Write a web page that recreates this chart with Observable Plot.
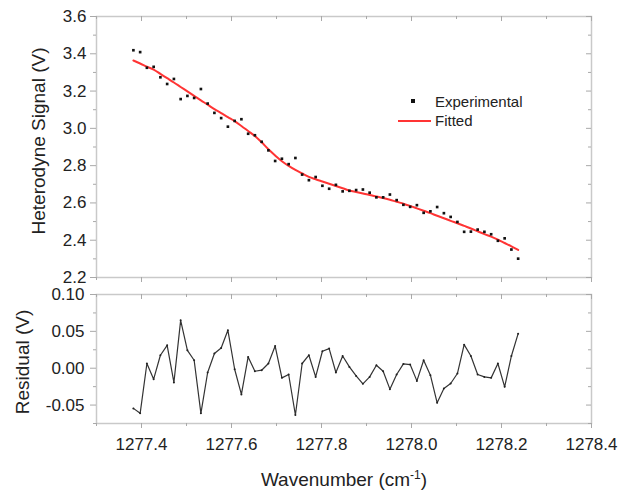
<!DOCTYPE html>
<html>
<head>
<meta charset="utf-8">
<script src="https://cdn.jsdelivr.net/npm/d3@7"></script>
<script src="https://cdn.jsdelivr.net/npm/@observablehq/plot@0.6"></script>
<style>
  body { margin: 0; background: #fff; }
  #chart { position: relative; width: 620px; height: 492px; font-family: 'Liberation Sans', Arial, Helvetica, sans-serif; }
  #chart svg { display: block; }
  .lg { position: absolute; }
  .lg-text { font-size: 15px; line-height: 15px; color: #222; white-space: nowrap; }
</style>
</head>
<body>
<div id="chart"></div>
<script>
// Heterodyne signal scan: measured points, model fit and fit residual
const wavenumber = [
  1277.382, 1277.397, 1277.412, 1277.427, 1277.442, 1277.457, 1277.472, 1277.487, 1277.502, 1277.517,
  1277.532, 1277.547, 1277.562, 1277.577, 1277.592, 1277.607, 1277.622, 1277.637, 1277.652, 1277.667,
  1277.682, 1277.697, 1277.712, 1277.727, 1277.742, 1277.757, 1277.772, 1277.787, 1277.802, 1277.817,
  1277.832, 1277.847, 1277.862, 1277.877, 1277.892, 1277.907, 1277.922, 1277.937, 1277.952, 1277.967,
  1277.982, 1277.997, 1278.012, 1278.027, 1278.042, 1278.057, 1278.072, 1278.087, 1278.102, 1278.117,
  1278.132, 1278.147, 1278.162, 1278.177, 1278.192, 1278.207, 1278.222, 1278.237
];
const experimental = [
  3.419, 3.409, 3.325, 3.330, 3.274, 3.238, 3.265, 3.157, 3.174, 3.163,
  3.211, 3.133, 3.083, 3.055, 3.009, 3.040, 3.049, 2.971, 2.963, 2.928,
  2.882, 2.825, 2.837, 2.808, 2.841, 2.752, 2.722, 2.739, 2.692, 2.676,
  2.697, 2.662, 2.665, 2.669, 2.672, 2.655, 2.630, 2.630, 2.645, 2.615,
  2.590, 2.579, 2.588, 2.547, 2.555, 2.578, 2.545, 2.525, 2.498, 2.445,
  2.446, 2.457, 2.445, 2.432, 2.397, 2.410, 2.350, 2.301
];
const fitted = [
  3.364, 3.348, 3.331, 3.315, 3.292, 3.269, 3.246, 3.222, 3.198, 3.174,
  3.150, 3.127, 3.103, 3.082, 3.060, 3.039, 3.013, 2.986, 2.959, 2.925,
  2.888, 2.855, 2.824, 2.799, 2.777, 2.758, 2.740, 2.727, 2.715, 2.703,
  2.691, 2.679, 2.667, 2.659, 2.651, 2.643, 2.634, 2.626, 2.617, 2.606,
  2.596, 2.584, 2.571, 2.558, 2.545, 2.531, 2.518, 2.504, 2.491, 2.477,
  2.463, 2.448, 2.433, 2.419, 2.403, 2.385, 2.367, 2.348
];
const residual = [
  -0.0545, -0.0612, 0.0064, -0.0149, 0.0176, 0.0311, -0.0193, 0.0649, 0.0243, 0.0108,
  -0.0612, -0.0058, 0.0199, 0.0274, 0.0514, -0.0014, -0.0355, 0.0153, -0.0041, -0.0027,
  0.0064, 0.0301, -0.0131, -0.0085, -0.0635, 0.0064, 0.0176, -0.0118, 0.0230, 0.0266,
  -0.0058, 0.0166, 0.0018, -0.0104, -0.0212, -0.0118, 0.0041, -0.0041, -0.0284, -0.0085,
  0.0058, 0.0050, -0.0172, 0.0108, -0.0095, -0.0469, -0.0274, -0.0207, -0.0072, 0.0320,
  0.0166, -0.0085, -0.0118, -0.0131, 0.0064, -0.0253, 0.0166, 0.0469
];

// Tick values
const signalTicks = [2.2, 2.4, 2.6, 2.8, 3.0, 3.2, 3.4, 3.6];
const signalMinor = [2.3, 2.5, 2.7, 2.9, 3.1, 3.3, 3.5];
const residualTicks = [-0.05, 0.00, 0.05, 0.10];
const residualMinor = [-0.075, -0.025, 0.025, 0.075];
const wnTicks = [1277.4, 1277.6, 1277.8, 1278.0, 1278.2, 1278.4];
const wnMinor = [1277.3, 1277.5, 1277.7, 1277.9, 1278.1, 1278.3];

const rows = wavenumber.map((w, i) => ({w, exp: experimental[i], fit: fitted[i], res: residual[i]}));

const W = 620, ML = 96, MR = 29;
const frameGray = "#c9c9c9", tickGray = "#a9a9a9", ink = "#222";
const font = "'Liberation Sans', Arial, Helvetica, sans-serif";
const style = {fontFamily: font, fontSize: "17px", color: ink, background: "white", overflow: "visible"};
const xDomain = [1277.3, 1278.4];

// inward mirror ticks along the top and right edges of a panel
function mirrorTicks(plotW, plotH, yMajor, yMinor) {
  return [
    Plot.ruleX(wnTicks, {x: d => d, insetBottom: plotH - 5, stroke: tickGray}),
    Plot.ruleX(wnMinor, {x: d => d, insetBottom: plotH - 3, stroke: tickGray}),
    Plot.ruleY(yMajor, {y: d => d, insetLeft: plotW - 5, stroke: tickGray}),
    Plot.ruleY(yMinor, {y: d => d, insetLeft: plotW - 3, stroke: tickGray})
  ];
}

// Upper panel: signal and fit
const topH = 285, topMT = 16, topMB = 8;
const topPlot = Plot.plot({
  width: W, height: topH,
  marginLeft: ML, marginRight: MR, marginTop: topMT, marginBottom: topMB,
  style,
  x: {domain: xDomain},
  y: {domain: [2.2, 3.6]},
  marks: [
    Plot.frame({stroke: frameGray, strokeWidth: 1.5}),
    Plot.axisY(signalTicks, {anchor: "left", tickSize: 6, tickPadding: 4, tickFormat: d => d.toFixed(1), label: null, stroke: tickGray, fill: ink}),
    Plot.axisY(signalMinor, {anchor: "left", tickSize: 3, tickFormat: () => "", label: null, stroke: tickGray}),
    Plot.axisX(wnTicks, {anchor: "bottom", tickSize: 5, tickFormat: () => "", label: null, stroke: tickGray}),
    Plot.axisX(wnMinor, {anchor: "bottom", tickSize: 3, tickFormat: () => "", label: null, stroke: tickGray}),
    ...mirrorTicks(W - ML - MR, topH - topMT - topMB, signalTicks, signalMinor),
    Plot.line(rows, {x: "w", y: "fit", stroke: "#ff3434", strokeWidth: 2, curve: "monotone-x"}),
    Plot.dot(rows, {x: "w", y: "exp", symbol: "square", r: 1.5, fill: "#111", stroke: "none"}),
    Plot.text(["Heterodyne Signal (V)"], {text: d => d, frameAnchor: "left", textAnchor: "middle", rotate: -90, dx: -58, dy: -6, fontSize: 19, fill: ink})
  ]
});

// Lower panel: residual
const botH = 207, botMT = 9, botMB = 69;
const botPlot = Plot.plot({
  width: W, height: botH,
  marginLeft: ML, marginRight: MR, marginTop: botMT, marginBottom: botMB,
  style,
  x: {domain: xDomain},
  y: {domain: [-0.075, 0.10]},
  marks: [
    Plot.frame({stroke: frameGray, strokeWidth: 1.5}),
    Plot.axisY(residualTicks, {anchor: "left", tickSize: 6, tickPadding: 6, tickFormat: d => d.toFixed(2), label: null, stroke: tickGray, fill: ink}),
    Plot.axisY(residualMinor, {anchor: "left", tickSize: 3, tickFormat: () => "", label: null, stroke: tickGray}),
    Plot.axisX(wnTicks, {anchor: "bottom", tickSize: 5, tickPadding: 9, tickFormat: d => d.toFixed(1), label: null, stroke: tickGray, fill: ink}),
    Plot.axisX(wnMinor, {anchor: "bottom", tickSize: 3, tickFormat: () => "", label: null, stroke: tickGray}),
    ...mirrorTicks(W - ML - MR, botH - botMT - botMB, residualTicks, residualMinor),
    Plot.line(rows, {x: "w", y: "res", stroke: "#333", strokeWidth: 1.2}),
    Plot.dot(rows, {x: "w", y: "res", r: 1, fill: "#222", stroke: "none"}),
    Plot.text(["Residual (V)"], {text: d => d, frameAnchor: "left", textAnchor: "middle", rotate: -90, dx: -74, dy: 3, fontSize: 19, fill: ink}),
    Plot.text(["Wavenumber (cm-1)"], {text: d => d, frameAnchor: "bottom", textAnchor: "middle", dy: 62, fontSize: 19, fill: ink})
  ]
});

// superscript exponent in the x-axis title
d3.select(botPlot).selectAll("text")
  .filter(function () { return this.textContent === "Wavenumber (cm-1)"; })
  .each(function () {
    const t = d3.select(this);
    t.text(null);
    t.append("tspan").text("Wavenumber (cm");
    t.append("tspan").attr("dy", "-7").attr("font-size", "12px").text("-1");
    t.append("tspan").attr("dy", "7").text(")");
  });

const chart = document.getElementById("chart");
chart.appendChild(topPlot);
chart.appendChild(botPlot);

// legend
const legend = [
  {kind: "square", label: "Experimental", top: 94},
  {kind: "line", label: "Fitted", top: 113}
];
for (const item of legend) {
  const sym = document.createElement("div");
  sym.className = "lg";
  if (item.kind === "square") {
    Object.assign(sym.style, {left: "411px", top: (item.top + 5) + "px", width: "4px", height: "4px", background: "#111"});
  } else {
    Object.assign(sym.style, {left: "398px", top: (item.top + 7) + "px", width: "33px", height: "2px", background: "#ff3434"});
  }
  chart.appendChild(sym);
  const txt = document.createElement("div");
  txt.className = "lg lg-text";
  txt.style.left = "435px";
  txt.style.top = item.top + "px";
  txt.textContent = item.label;
  chart.appendChild(txt);
}
</script>
</body>
</html>
